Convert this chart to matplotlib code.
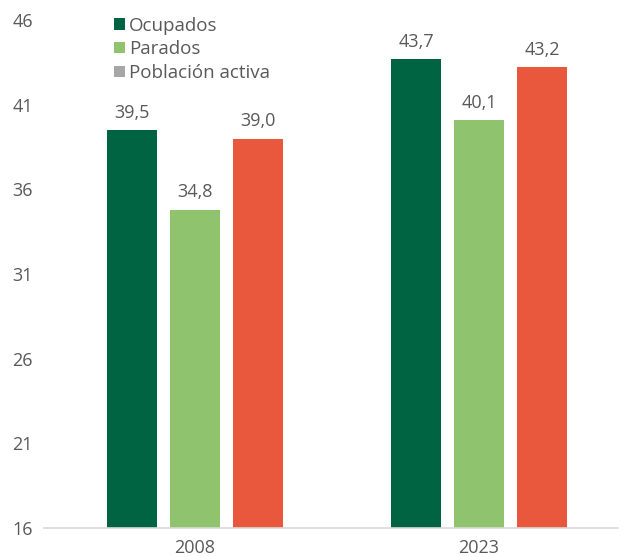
import matplotlib.pyplot as plt
from matplotlib.patches import Patch

years = ["2008", "2023"]
ocupados = [39.5, 43.7]
parados = [34.8, 40.1]
poblacion_activa = [39.0, 43.2]
series_names = ["Ocupados", "Parados", "Población activa"]
yticks = [16, 21, 26, 31, 36, 41, 46]

bar_colors = ["#006341", "#8FC36D", "#E9573C"]
legend_colors = ["#006341", "#8FC36D", "#A6A6A6"]
text_color = "#595959"

plt.rcParams["font.family"] = ["Open Sans", "DejaVu Sans"]

fig = plt.figure(figsize=(6.28, 5.57), dpi=100)
ax = fig.add_axes([0.07, 0.052, 0.914, 0.912])

width = 0.176
step = 0.222
x = range(len(years))
for i, vals in enumerate([ocupados, parados, poblacion_activa]):
    pos = [xi + (i - 1) * step for xi in x]
    bars = ax.bar(pos, [v - 16 for v in vals], width=width, bottom=16, color=bar_colors[i])
    for b, v in zip(bars, vals):
        ax.annotate(f"{v:.1f}".replace(".", ","),
                    (b.get_x() + b.get_width() / 2, v),
                    xytext=(0, 6), textcoords="offset points",
                    ha="center", va="bottom", fontsize=13, color=text_color)

ax.set_xlim(-0.532, 1.489)
ax.set_ylim(16, 46)
ax.set_yticks(yticks)
ax.set_yticklabels([str(t) for t in yticks], fontsize=13, color=text_color)
ax.set_xticks(list(x))
ax.set_xticklabels(years, fontsize=13, color=text_color)
ax.tick_params(axis="both", length=0)
ax.tick_params(axis="y", pad=8)
ax.tick_params(axis="x", pad=8)
for s in ["left", "right", "top"]:
    ax.spines[s].set_visible(False)
ax.spines["bottom"].set_color("#D9D9D9")
ax.spines["bottom"].set_linewidth(1.2)

handles = [Patch(facecolor=c, edgecolor="none") for c in legend_colors]
leg = ax.legend(handles, series_names, loc="upper left", bbox_to_anchor=(0.093, 1.04),
                frameon=False, fontsize=13.5, handlelength=0.55, handleheight=0.55,
                handletextpad=0.25, labelspacing=0.3, labelcolor=text_color)

fig.savefig("out.png", dpi=100)
